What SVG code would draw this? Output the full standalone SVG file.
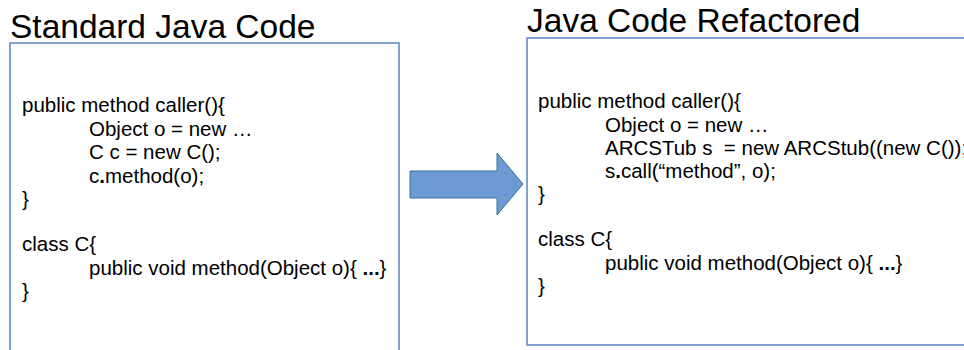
<svg xmlns="http://www.w3.org/2000/svg" width="964" height="350" viewBox="0 0 964 350">
  <style>
    .title { font-family: "Liberation Sans", Arial, sans-serif; font-size: 33.5px; fill: #000; }
    .code { font-family: "Liberation Sans", Arial, sans-serif; font-size: 20.5px; fill: #000; white-space: pre; }
    .box { fill: #fff; stroke: #5b84c0; stroke-width: 1.5; }
    .b { font-weight: bold; }
  </style>
  <rect width="964" height="350" fill="#fff"/>

  <!-- Left panel: original code -->
  <g id="standard">
    <text class="title" x="10" y="38">Standard Java Code</text>
    <rect class="box" x="10" y="43" width="389" height="320"/>
    <text class="code" x="22" y="112">public method caller(){</text>
    <text class="code" x="89" y="136">Object o = new …</text>
    <text class="code" x="89" y="159">C c = new C();</text>
    <text class="code" x="89" y="183">c<tspan class="b">.</tspan>method(o);</text>
    <text class="code" x="22" y="206">}</text>
    <text class="code" x="22" y="251">class C{</text>
    <text class="code" x="89" y="275">public void method(Object o){ <tspan class="b">...</tspan>}</text>
    <text class="code" x="22" y="298">}</text>
  </g>

  <!-- Right panel: refactored code -->
  <g id="refactored">
    <text class="title" x="527" y="32">Java Code Refactored</text>
    <rect class="box" x="527" y="38" width="460" height="307"/>
    <text class="code" x="538" y="108">public method caller(){</text>
    <text class="code" x="605" y="132">Object o = new …</text>
    <text class="code" x="605" y="155" xml:space="preserve">ARCSTub s  = new ARCStub((new C());</text>
    <text class="code" x="605" y="178">s<tspan class="b">.</tspan>call(“method”, o);</text>
    <text class="code" x="538" y="201">}</text>
    <text class="code" x="538" y="246">class C{</text>
    <text class="code" x="605" y="270">public void method(Object o){ <tspan class="b">...</tspan>}</text>
    <text class="code" x="538" y="293">}</text>
  </g>

  <!-- Block arrow between the panels -->
  <g id="connectors">
    <path d="M410,171 L497,171 L497,153 L523,184 L497,215 L497,198 L410,198 Z" fill="#6b9bd2" stroke="#41719c" stroke-width="1"/>
  </g>
</svg>
